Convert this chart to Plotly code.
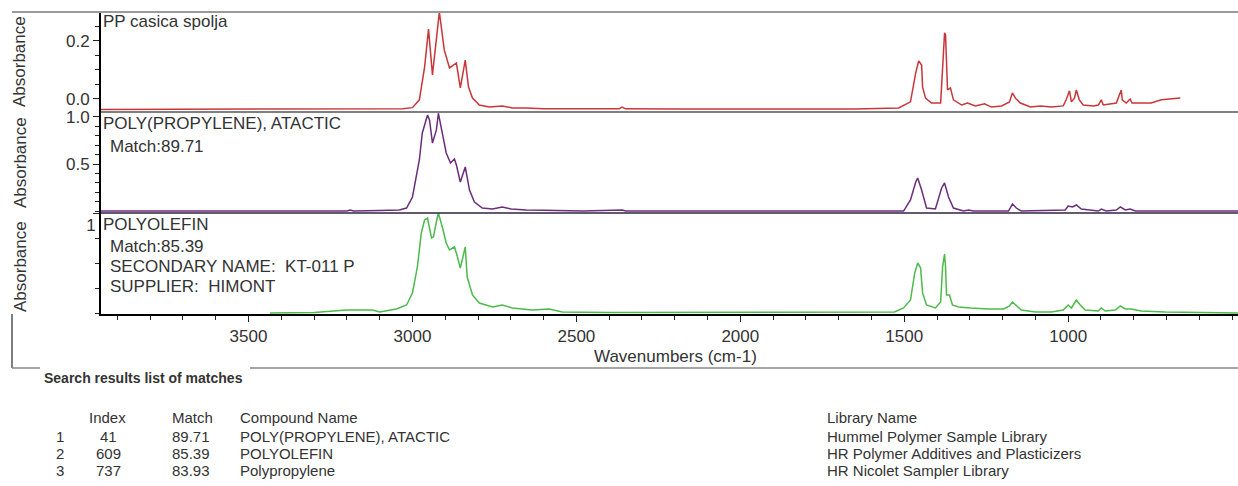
import plotly.graph_objects as go

# ---------------- data ----------------
wn_sample = [3950, 3700, 3400, 3200, 3100, 3030, 3000, 2979, 2963, 2951, 2939, 2918, 2903, 2887,
             2866, 2854, 2839, 2829, 2817, 2796, 2766, 2726, 2695, 2653, 2600, 2450, 2370, 2361,
             2350, 2200, 2000, 1800, 1650, 1517, 1481, 1465, 1456, 1447, 1444, 1435, 1417, 1389,
             1383, 1377, 1374, 1368, 1359, 1350, 1325, 1307, 1283, 1255, 1234, 1203, 1179, 1170,
             1161, 1146, 1115, 1085, 1051, 1015, 1006, 996, 990, 981, 975, 966, 954, 923, 908,
             899, 893, 868, 853, 844, 838, 835, 823, 811, 805, 777, 747, 716, 686, 658]
abs_sample = [-0.036, -0.036, -0.036, -0.035, -0.036, -0.034, -0.030, -0.003, 0.110, 0.241, 0.083,
              0.300, 0.169, 0.107, 0.124, 0.038, 0.134, 0.041, 0.003, -0.021, -0.028, -0.024,
              -0.031, -0.031, -0.034, -0.035, -0.034, -0.028, -0.034, -0.035, -0.035, -0.035,
              -0.035, -0.031, -0.010, 0.090, 0.131, 0.117, 0.041, 0.003, -0.014, -0.014, 0.134,
              0.228, 0.221, 0.031, 0.038, -0.003, -0.021, -0.014, -0.024, -0.017, -0.028, -0.024,
              -0.010, 0.021, 0.003, -0.014, -0.028, -0.024, -0.028, -0.024, -0.003, 0.028, -0.010,
              0.003, 0.031, -0.003, -0.021, -0.024, -0.021, -0.003, -0.021, -0.017, -0.014, 0.014,
              0.031, -0.003, -0.014, 0.000, -0.014, -0.014, -0.014, -0.003, 0.000, 0.003]

wn_atactic = [3950, 3600, 3300, 3200, 3190, 3180, 3100, 3040, 3018, 3000, 2979, 2970, 2954, 2948,
              2939, 2927, 2921, 2909, 2897, 2884, 2872, 2866, 2854, 2839, 2826, 2811, 2787, 2756,
              2726, 2699, 2653, 2600, 2500, 2480, 2360, 2350, 2200, 1900, 1600, 1502, 1481, 1465,
              1459, 1447, 1432, 1405, 1386, 1377, 1365, 1350, 1319, 1304, 1289, 1182, 1170, 1158,
              1143, 1009, 1000, 987, 975, 960, 908, 899, 884, 853, 841, 826, 811, 795, 700, 482]
abs_atactic = [0.0, 0.0, 0.0, 0.0, 0.010, 0.0, 0.005, 0.011, 0.032, 0.149, 0.543, 0.830, 1.021,
               0.968, 0.723, 0.862, 1.040, 0.830, 0.617, 0.511, 0.553, 0.489, 0.309, 0.468, 0.223,
               0.096, 0.032, 0.021, 0.043, 0.021, 0.011, 0.008, 0.005, 0.0, 0.010, 0.0, 0.0, 0.0,
               0.0, 0.0, 0.117, 0.309, 0.351, 0.223, 0.032, 0.021, 0.245, 0.298, 0.149, 0.032,
               0.0, 0.011, 0.0, 0.0, 0.074, 0.032, 0.0, 0.011, 0.053, 0.043, 0.064, 0.021, 0.0,
               0.021, 0.0, 0.011, 0.043, 0.011, 0.021, 0.0, 0.0, 0.0]

wn_polyolefin = [3435, 3300, 3200, 3160, 3122, 3100, 3049, 3018, 3000, 2985, 2973, 2963, 2954,
                 2942, 2936, 2927, 2921, 2909, 2897, 2887, 2872, 2866, 2854, 2839, 2833, 2817,
                 2796, 2756, 2726, 2695, 2635, 2583, 2543, 2400, 2200, 2000, 1900, 1800, 1600,
                 1530, 1502, 1481, 1468, 1459, 1450, 1444, 1432, 1405, 1389, 1383, 1377, 1374,
                 1371, 1362, 1353, 1334, 1298, 1243, 1197, 1179, 1170, 1158, 1143, 1100, 1051,
                 1015, 1000, 990, 975, 963, 948, 908, 899, 887, 856, 841, 826, 808, 777, 704,
                 600, 482]
abs_polyolefin = [0.0, 0.005, 0.03, 0.03, 0.03, 0.01, 0.04, 0.08, 0.20, 0.46, 0.80, 0.93, 0.95,
                  0.75, 0.76, 0.91, 1.0, 0.86, 0.70, 0.63, 0.66, 0.60, 0.45, 0.66, 0.36, 0.18,
                  0.10, 0.06, 0.08, 0.05, 0.03, 0.04, 0.01, 0.005, 0.005, 0.01, 0.01, 0.005,
                  0.005, 0.01, 0.05, 0.13, 0.40, 0.50, 0.45, 0.20, 0.08, 0.05, 0.11, 0.46, 0.59,
                  0.46, 0.18, 0.18, 0.08, 0.06, 0.05, 0.04, 0.04, 0.07, 0.11, 0.07, 0.03, 0.01,
                  0.01, 0.03, 0.08, 0.05, 0.13, 0.08, 0.03, 0.02, 0.05, 0.02, 0.03, 0.07, 0.04,
                  0.04, 0.02, 0.01, 0.005, 0.0]

x_ticks = [3500, 3000, 2500, 2000, 1500, 1000]

# search result table
row_num = ["1", "2", "3"]
index_vals = ["41", "609", "737"]
match_vals = ["89.71", "85.39", "83.93"]
compound_names = ["POLY(PROPYLENE), ATACTIC", "POLYOLEFIN", "Polypropylene"]
library_names = ["Hummel Polymer Sample Library", "HR Polymer Additives and Plasticizers",
                 "HR Nicolet Sampler Library"]

# ---------------- layout helpers ----------------
W, H = 1238, 486
L, R, T, B = 101, 0, 12, 172
PW = W - L - R
PH = H - T - B


def px(x):
    return (x - L) / PW


def py(y):
    return (H - B - y) / PH


FONT = "Liberation Sans, Arial, sans-serif"
TXT = "#333333"

fig = go.Figure()
fig.add_trace(go.Scatter(x=wn_sample, y=abs_sample, mode="lines", xaxis="x", yaxis="y",
                         line=dict(color="#c8363a", width=1.5), showlegend=False))
fig.add_trace(go.Scatter(x=wn_atactic, y=abs_atactic, mode="lines", xaxis="x", yaxis="y2",
                         line=dict(color="#6b2d7b", width=1.5), showlegend=False))
fig.add_trace(go.Scatter(x=wn_polyolefin, y=abs_polyolefin, mode="lines", xaxis="x", yaxis="y3",
                         line=dict(color="#4cba4c", width=1.5), showlegend=False))

yax_common = dict(anchor="x", showline=True, linecolor="black", linewidth=2, ticks="outside",
                  ticklen=6, tickwidth=1.2, tickcolor="#222", showgrid=False, zeroline=False,
                  automargin=False,
                  tickfont=dict(size=17, color=TXT, family=FONT), tickmode="array")

fig.update_layout(
    width=W, height=H,
    margin=dict(l=L, r=R, t=T, b=B, pad=0),
    paper_bgcolor="white", plot_bgcolor="white",
    font=dict(family=FONT, color=TXT),
    xaxis=dict(anchor="y3", domain=[0, 1], range=[3950, 482], showline=True, linecolor="black",
               linewidth=2, ticks="outside", ticklen=6, tickwidth=1.2, tickcolor="#222",
               tickmode="array", tickvals=x_ticks, showgrid=False, zeroline=False,
               automargin=False,
               minor=dict(ticks="outside", ticklen=4, tickmode="linear", tick0=0, dtick=100,
                          tickcolor="#222", tickwidth=1),
               tickfont=dict(size=17, color=TXT, family=FONT)),
    yaxis=dict(domain=[py(112), 1.0], range=[-0.045, 0.300], tickvals=[0, 0.2],
               ticktext=["0.0", "0.2"],
               minor=dict(ticks="outside", ticklen=4, tickmode="linear", tick0=0, dtick=0.05,
                          tickcolor="#222", tickwidth=1),
               **yax_common),
    yaxis2=dict(domain=[py(213), py(112)], range=[-0.021, 1.053], tickvals=[0.5, 1.0],
                ticktext=["0.5", "1.0"],
                minor=dict(ticks="outside", ticklen=4, tickmode="linear", tick0=0, dtick=0.1,
                           tickcolor="#222", tickwidth=1),
                **yax_common),
    yaxis3=dict(domain=[0, py(213)], range=[-0.01, 1.0], tickvals=[1.0], ticktext=["1"],
                ticklabelposition="outside bottom",
                minor=dict(ticks="outside", ticklen=4, tickmode="linear", tick0=0, dtick=0.25,
                           tickcolor="#222", tickwidth=1),
                **yax_common),
)

shapes = [
    dict(type="line", xref="paper", yref="paper", x0=px(12), x1=1, y0=1, y1=1,
         line=dict(color="#9a9a9a", width=2)),
    dict(type="line", xref="paper", yref="paper", x0=0, x1=1, y0=py(112), y1=py(112),
         line=dict(color="#555555", width=1.5)),
    dict(type="line", xref="paper", yref="paper", x0=0, x1=1, y0=py(213), y1=py(213),
         line=dict(color="#2e2440", width=1.5)),
    dict(type="line", xref="paper", yref="paper", x0=px(12), x1=px(12), y0=py(314), y1=py(368),
         line=dict(color="#555555", width=1.5)),
    dict(type="line", xref="paper", yref="paper", x0=px(12), x1=px(40), y0=py(368), y1=py(368),
         line=dict(color="#888888", width=1.5)),
    dict(type="line", xref="paper", yref="paper", x0=px(250), x1=1, y0=py(368), y1=py(368),
         line=dict(color="#888888", width=1.5)),
]
fig.update_layout(shapes=shapes)

ann = []


def add_text(text, x, y, size=17, xanchor="left", bold=False, angle=0):
    ann.append(dict(text=("<b>%s</b>" % text) if bold else text, x=px(x), y=py(y),
                    xref="paper", yref="paper", xanchor=xanchor, yanchor="middle",
                    showarrow=False, textangle=angle,
                    font=dict(size=size, color=TXT, family=FONT)))


# panel labels
add_text("PP casica spolja", 101, 22)
add_text("POLY(PROPYLENE), ATACTIC", 101, 123)
add_text("Match:89.71", 108, 146)
add_text("POLYOLEFIN", 101, 224)
add_text("Match:85.39", 108, 246)
add_text("SECONDARY NAME:  KT-011 P", 108, 266)
add_text("SUPPLIER:  HIMONT", 108, 286)

# y titles
for yc in [62, 163, 267]:
    add_text("Absorbance", 20, yc, size=17, xanchor="center", angle=-90)

# x title
add_text("Wavenumbers (cm-1)", 675, 356, size=17, xanchor="center")

# table
add_text("Search results list of matches", 42, 378, size=14, bold=True)
add_text("Index", 107, 417, size=15, xanchor="center")
add_text("Match", 170, 417, size=15)
add_text("Compound Name", 238, 417, size=15)
add_text("Library Name", 825, 417, size=15)
for i, yrow in enumerate([436, 453, 470]):
    add_text(row_num[i], 60, yrow, size=15, xanchor="center")
    add_text(index_vals[i], 108, yrow, size=15, xanchor="center")
    add_text(match_vals[i], 170, yrow, size=15)
    add_text(compound_names[i], 238, yrow, size=15)
    add_text(library_names[i], 825, yrow, size=15)

fig.update_layout(annotations=ann)

fig.write_html("out.html", config={"displayModeBar": False},
               post_script="document.body.style.margin='0';document.body.style.overflow='hidden';")
